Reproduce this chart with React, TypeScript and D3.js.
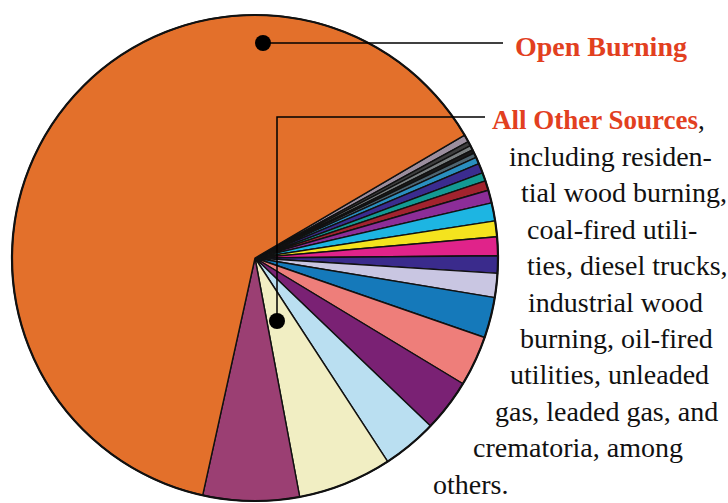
import React from 'react';
import { pie, arc, PieArcDatum } from 'd3';

// share of emissions per source, clockwise from the upper-right edge of "Open Burning"
const sources = [
  'other-a', 'other-b', 'other-c', 'other-d', 'other-e', 'other-f', 'other-g',
  'other-h', 'other-i', 'other-j', 'other-k', 'other-l', 'other-m', 'other-n',
  'other-o', 'other-p', 'other-q', 'other-r', 'other-s', 'other-t', 'other-u',
  'Open Burning',
];
const shares = [
  0.5, 0.3, 0.3, 0.25, 0.3, 0.45, 0.65, 0.55, 0.65, 0.85, 1.2,
  1.05, 1.25, 1.15, 1.6, 2.7, 3.35, 3.5, 3.65, 6.25, 6.4, 63.1,
];
const colors = [
  '#9c8e9e', '#3d3d3d', '#7a7f80', '#1a1a1a', '#4e6470', '#2a8fc0', '#3b2c8f',
  '#139a93', '#a2232e', '#8c2d98', '#1db5e2', '#f4e31e', '#e0238a', '#3a2b8c',
  '#c9c6e2', '#1579ba', '#ee7e7a', '#7a2174', '#badff1', '#f1eec3', '#9b3f73',
  '#e3702b',
];

const noteLines = [
  'including residen-',
  'tial wood burning,',
  'coal-fired utili-',
  'ties, diesel trucks,',
  'industrial wood',
  'burning, oil-fired',
  'utilities, unleaded',
  'gas, leaded gas, and',
  'crematoria, among',
  'others.',
];
// left edge of each wrapped line, following the curve of the pie
const noteX = [509, 521, 527, 527, 528, 520, 510, 495, 473, 433];

const W = 728;
const H = 503;
const cx = 255;
const cy = 258;
const R = 243;
const start = (59.6 * Math.PI) / 180;
const red = '#e2401f';
const serif = { fontFamily: "'Liberation Serif', 'DejaVu Serif', serif" };

type Row = { name: string; value: number; color: string };

export default function App() {
  const rows: Row[] = sources.map((name, i) => ({ name, value: shares[i], color: colors[i] }));

  const slices = pie<Row>()
    .sort(null)
    .value(d => d.value)
    .startAngle(start)
    .endAngle(start + Math.PI * 2)(rows);

  const arcGen = arc<PieArcDatum<Row>>().innerRadius(0).outerRadius(R);

  return (
    <svg width={W} height={H} style={{ position: 'absolute', left: 0, top: 0, background: '#fff' }}>
      <g transform={`translate(${cx},${cy})`}>
        {slices.map(s => (
          <path key={s.data.name} d={arcGen(s) || ''} fill={s.data.color}
            stroke="#111" strokeWidth={1.4} strokeLinejoin="round" />
        ))}
        <circle r={R} fill="none" stroke="#111" strokeWidth={2.2} />
      </g>

      {/* leader: Open Burning */}
      <line x1={263} y1={43} x2={503} y2={43} stroke="#000" strokeWidth={1.5} />
      <circle cx={263} cy={43} r={8} fill="#000" />
      <text x={515} y={56} style={serif} fontWeight="bold" fontSize={28} fill={red}>
        Open Burning
      </text>

      {/* leader: All Other Sources */}
      <polyline points="277,321 277,117 485,117" fill="none" stroke="#000" strokeWidth={1.5} />
      <circle cx={277} cy={321} r={8} fill="#000" />
      <text x={492} y={129} style={serif} fontSize={27}>
        <tspan fontWeight="bold" fill={red}>All Other Sources</tspan>
        <tspan fill="#111">,</tspan>
      </text>

      {noteLines.map((t, i) => (
        <text key={t} x={noteX[i]} y={166 + i * 36.4} style={serif} fontSize={28} fill="#111">
          {t}
        </text>
      ))}
    </svg>
  );
}
